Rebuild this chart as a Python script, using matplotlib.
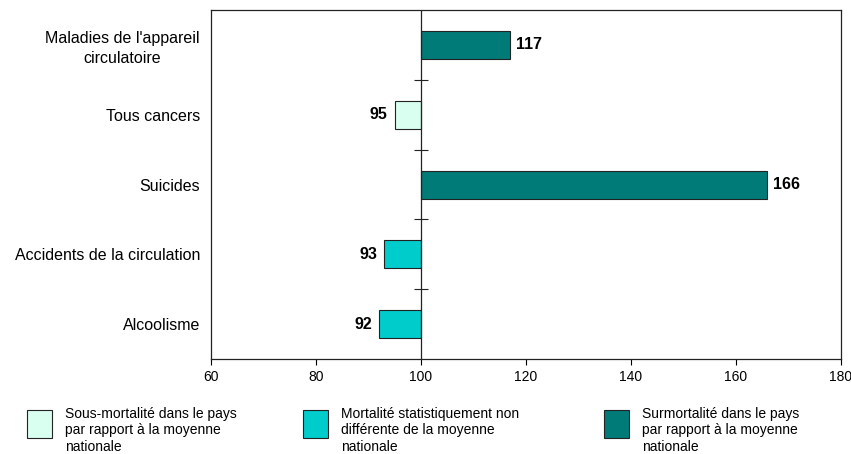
import matplotlib
matplotlib.use("Agg")
import matplotlib.pyplot as plt
from matplotlib.patches import Rectangle

plt.rcParams['font.family'] = ['Liberation Sans', 'DejaVu Sans']

categories = ["Maladies de l'appareil\ncirculatoire", "Tous cancers", "Suicides",
              "Accidents de la circulation", "Alcoolisme"]
values = [117, 95, 166, 93, 92]
groups = ["sur", "sous", "sur", "nd", "nd"]

colors = {"sous": "#D9FFF0", "nd": "#00CCCC", "sur": "#007B78"}
legend_labels = {
    "sous": "Sous-mortalité dans le pays\npar rapport à la moyenne\nnationale",
    "nd": "Mortalité statistiquement non\ndifférente de la moyenne\nnationale",
    "sur": "Surmortalité dans le pays\npar rapport à la moyenne\nnationale",
}
baseline = 100
xticks = [60, 80, 100, 120, 140, 160, 180]

fig = plt.figure(figsize=(8.51, 4.54), dpi=100)
ax = fig.add_axes([0.248, 0.209, 0.740, 0.769])

ypos = list(range(len(categories)))
for y, v, g in zip(ypos, values, groups):
    ax.barh(y, v - baseline, left=baseline, height=0.4, color=colors[g],
            edgecolor="#222222", linewidth=0.8, zorder=3)
    if v >= baseline:
        ax.annotate(str(v), (v, y), xytext=(4, 0), textcoords="offset points",
                    ha="left", va="center", fontsize=11.5, fontweight="bold")
    else:
        ax.annotate(str(v), (v, y), xytext=(-5, 0), textcoords="offset points",
                    ha="right", va="center", fontsize=11.5, fontweight="bold")

ax.set_xlim(60, 180)
ax.set_ylim(len(categories) - 0.5, -0.5)
ax.set_xticks(xticks)
ax.tick_params(axis="x", labelsize=10, length=4, width=0.8, direction="out")
ax.set_yticks(ypos)
ax.set_yticklabels(categories, fontsize=11.5, multialignment="center",
                   linespacing=1.35)
ax.tick_params(axis="y", length=0, pad=8)
for s in ax.spines.values():
    s.set_linewidth(0.9)
    s.set_color("#222222")

# category axis drawn at the baseline value with separators between categories
ax.axvline(baseline, color="#222222", linewidth=0.9, zorder=4)
sec = ax.secondary_yaxis((baseline - 60) / (180 - 60))
sec.spines["left"].set_visible(False)
sec.set_yticks([y + 0.5 for y in ypos[:-1]])
sec.set_yticklabels([])
sec.tick_params(axis="y", length=10, width=0.8, direction="inout", color="#222222")

# legend
legend_x = [27, 303, 604]
for x0, key in zip(legend_x, ["sous", "nd", "sur"]):
    fig.add_artist(Rectangle((x0 / 851, 1 - 438 / 454), 25 / 851, 28 / 454,
                             transform=fig.transFigure, facecolor=colors[key],
                             edgecolor="#222222", linewidth=0.8))
    fig.text((x0 + 38) / 851, 1 - 407 / 454, legend_labels[key], fontsize=10,
             ha="left", va="top", linespacing=1.22)

fig.savefig("out.png", dpi=100)
